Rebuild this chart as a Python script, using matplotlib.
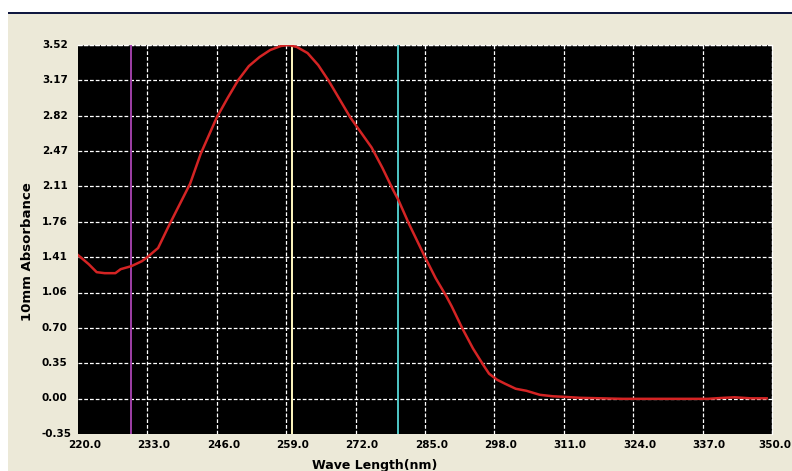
import matplotlib.pyplot as plt
from matplotlib.patches import Rectangle
from matplotlib.transforms import ScaledTranslation

# -----------------------------------
# Spectrum data
# -----------------------------------

wavelength = [220, 222, 223.5, 225, 227, 228, 230, 232, 233, 235, 237, 239,
              241, 243, 245, 246, 248, 250, 252, 254, 256, 258, 259.5, 261,
              263, 265, 267, 269, 271, 273, 275, 277, 279, 280, 282, 284,
              285, 287, 289, 290, 292, 294, 296, 297, 298.5, 300, 302, 304,
              306.5, 309, 311, 314, 318, 322, 326, 330, 334, 338, 341, 343,
              346, 349]

absorbance = [1.43, 1.34, 1.26, 1.25, 1.25, 1.29, 1.32, 1.37, 1.41, 1.50,
              1.72, 1.93, 2.14, 2.44, 2.68, 2.80, 2.99, 3.17, 3.31, 3.40,
              3.47, 3.51, 3.52, 3.50, 3.44, 3.32, 3.16, 2.98, 2.80, 2.65,
              2.50, 2.30, 2.08, 1.98, 1.74, 1.52, 1.41, 1.20, 1.02, 0.92,
              0.70, 0.50, 0.33, 0.25, 0.19, 0.15, 0.10, 0.08, 0.04, 0.025,
              0.02, 0.01, 0.005, 0.0, 0.0, 0.0, 0.0, 0.0, 0.01, 0.015,
              0.005, 0.005]

x_ticks = [220.0, 233.0, 246.0, 259.0, 272.0, 285.0, 298.0, 311.0, 324.0, 337.0, 350.0]
y_tick_labels = ["-0.35", "0.00", "0.35", "0.70", "1.06", "1.41",
                 "1.76", "2.11", "2.47", "2.82", "3.17", "3.52"]

marker_lines = [230, 260, 280]
marker_colors = ["#a040a8", "#fff8c0", "#50c8c8"]

# -----------------------------------
# Figure
# -----------------------------------

fig = plt.figure(figsize=(7.92, 4.71), dpi=100)
fig.patch.set_facecolor("white")

# beige panel + dark top line like the original window
fig.patches.append(Rectangle((8 / 792, 0), 1, 1 - 13 / 471,
                             transform=fig.transFigure, facecolor="#ece9d8",
                             edgecolor="none", zorder=-2))
fig.patches.append(Rectangle((8 / 792, 1 - 14 / 471), 1, 2 / 471,
                             transform=fig.transFigure, facecolor="#101840",
                             edgecolor="none", zorder=-1))

ax = fig.add_axes([78 / 792, 1 - 434 / 471, (772 - 78) / 792, (434 - 45) / 471])
ax.set_facecolor("black")

y_min, y_max = -0.35, 3.52
step = (y_max - y_min) / 11
y_ticks = [y_min + i * step for i in range(12)]

ax.set_xlim(220, 350)
ax.set_ylim(y_min, y_max)

ax.set_xticks(x_ticks)
ax.set_xticklabels([f"{t:.1f}" for t in x_ticks])
ax.set_yticks(y_ticks)
ax.set_yticklabels(y_tick_labels)

ax.grid(True, color="white", linestyle=(0, (3, 1.6)), linewidth=0.9)
ax.xaxis.get_gridlines()[0].set_visible(False)
ax.yaxis.get_gridlines()[0].set_visible(False)

# labels in the original are left aligned, a bit off the ticks
ax.tick_params(axis="x", length=0, pad=4, labelsize=7.5)
ax.tick_params(axis="y", length=0, pad=26, labelsize=7.5)
shift_x = ScaledTranslation(-0.10, 0, fig.dpi_scale_trans)
shift_last = ScaledTranslation(-0.14, 0, fig.dpi_scale_trans)
shift_y = ScaledTranslation(0, 0.012, fig.dpi_scale_trans)
xlabels = ax.get_xticklabels()
for i, lbl in enumerate(xlabels):
    lbl.set_fontweight("bold")
    lbl.set_ha("left")
    # last one is clipped by the window edge in the original; keep it inside
    sh = shift_last if i == len(xlabels) - 1 else shift_x
    lbl.set_transform(lbl.get_transform() + sh)
for lbl in ax.get_yticklabels():
    lbl.set_fontweight("bold")
    lbl.set_ha("left")
    lbl.set_transform(lbl.get_transform() + shift_y)

for s in ["top", "right"]:
    ax.spines[s].set_color("white")
    ax.spines[s].set_linestyle((0, (3, 1.6)))
    ax.spines[s].set_linewidth(0.9)
for s in ["left", "bottom"]:
    ax.spines[s].set_visible(False)

for xv, c in zip(marker_lines, marker_colors):
    ax.axvline(xv, color=c, linewidth=1.4, zorder=3)

ax.plot(wavelength, absorbance, color="#d42424", linewidth=1.8, zorder=4)

fig.text(375 / 792, 1 - 465 / 471, "Wave Length(nm)", fontweight="bold",
         fontsize=9, ha="center", va="center")
fig.text(28 / 792, 1 - 252 / 471, "10mm Absorbance", fontweight="bold",
         fontsize=9.5, ha="center", va="center", rotation=90)

fig.savefig("out.png", dpi=100, facecolor=fig.get_facecolor())
